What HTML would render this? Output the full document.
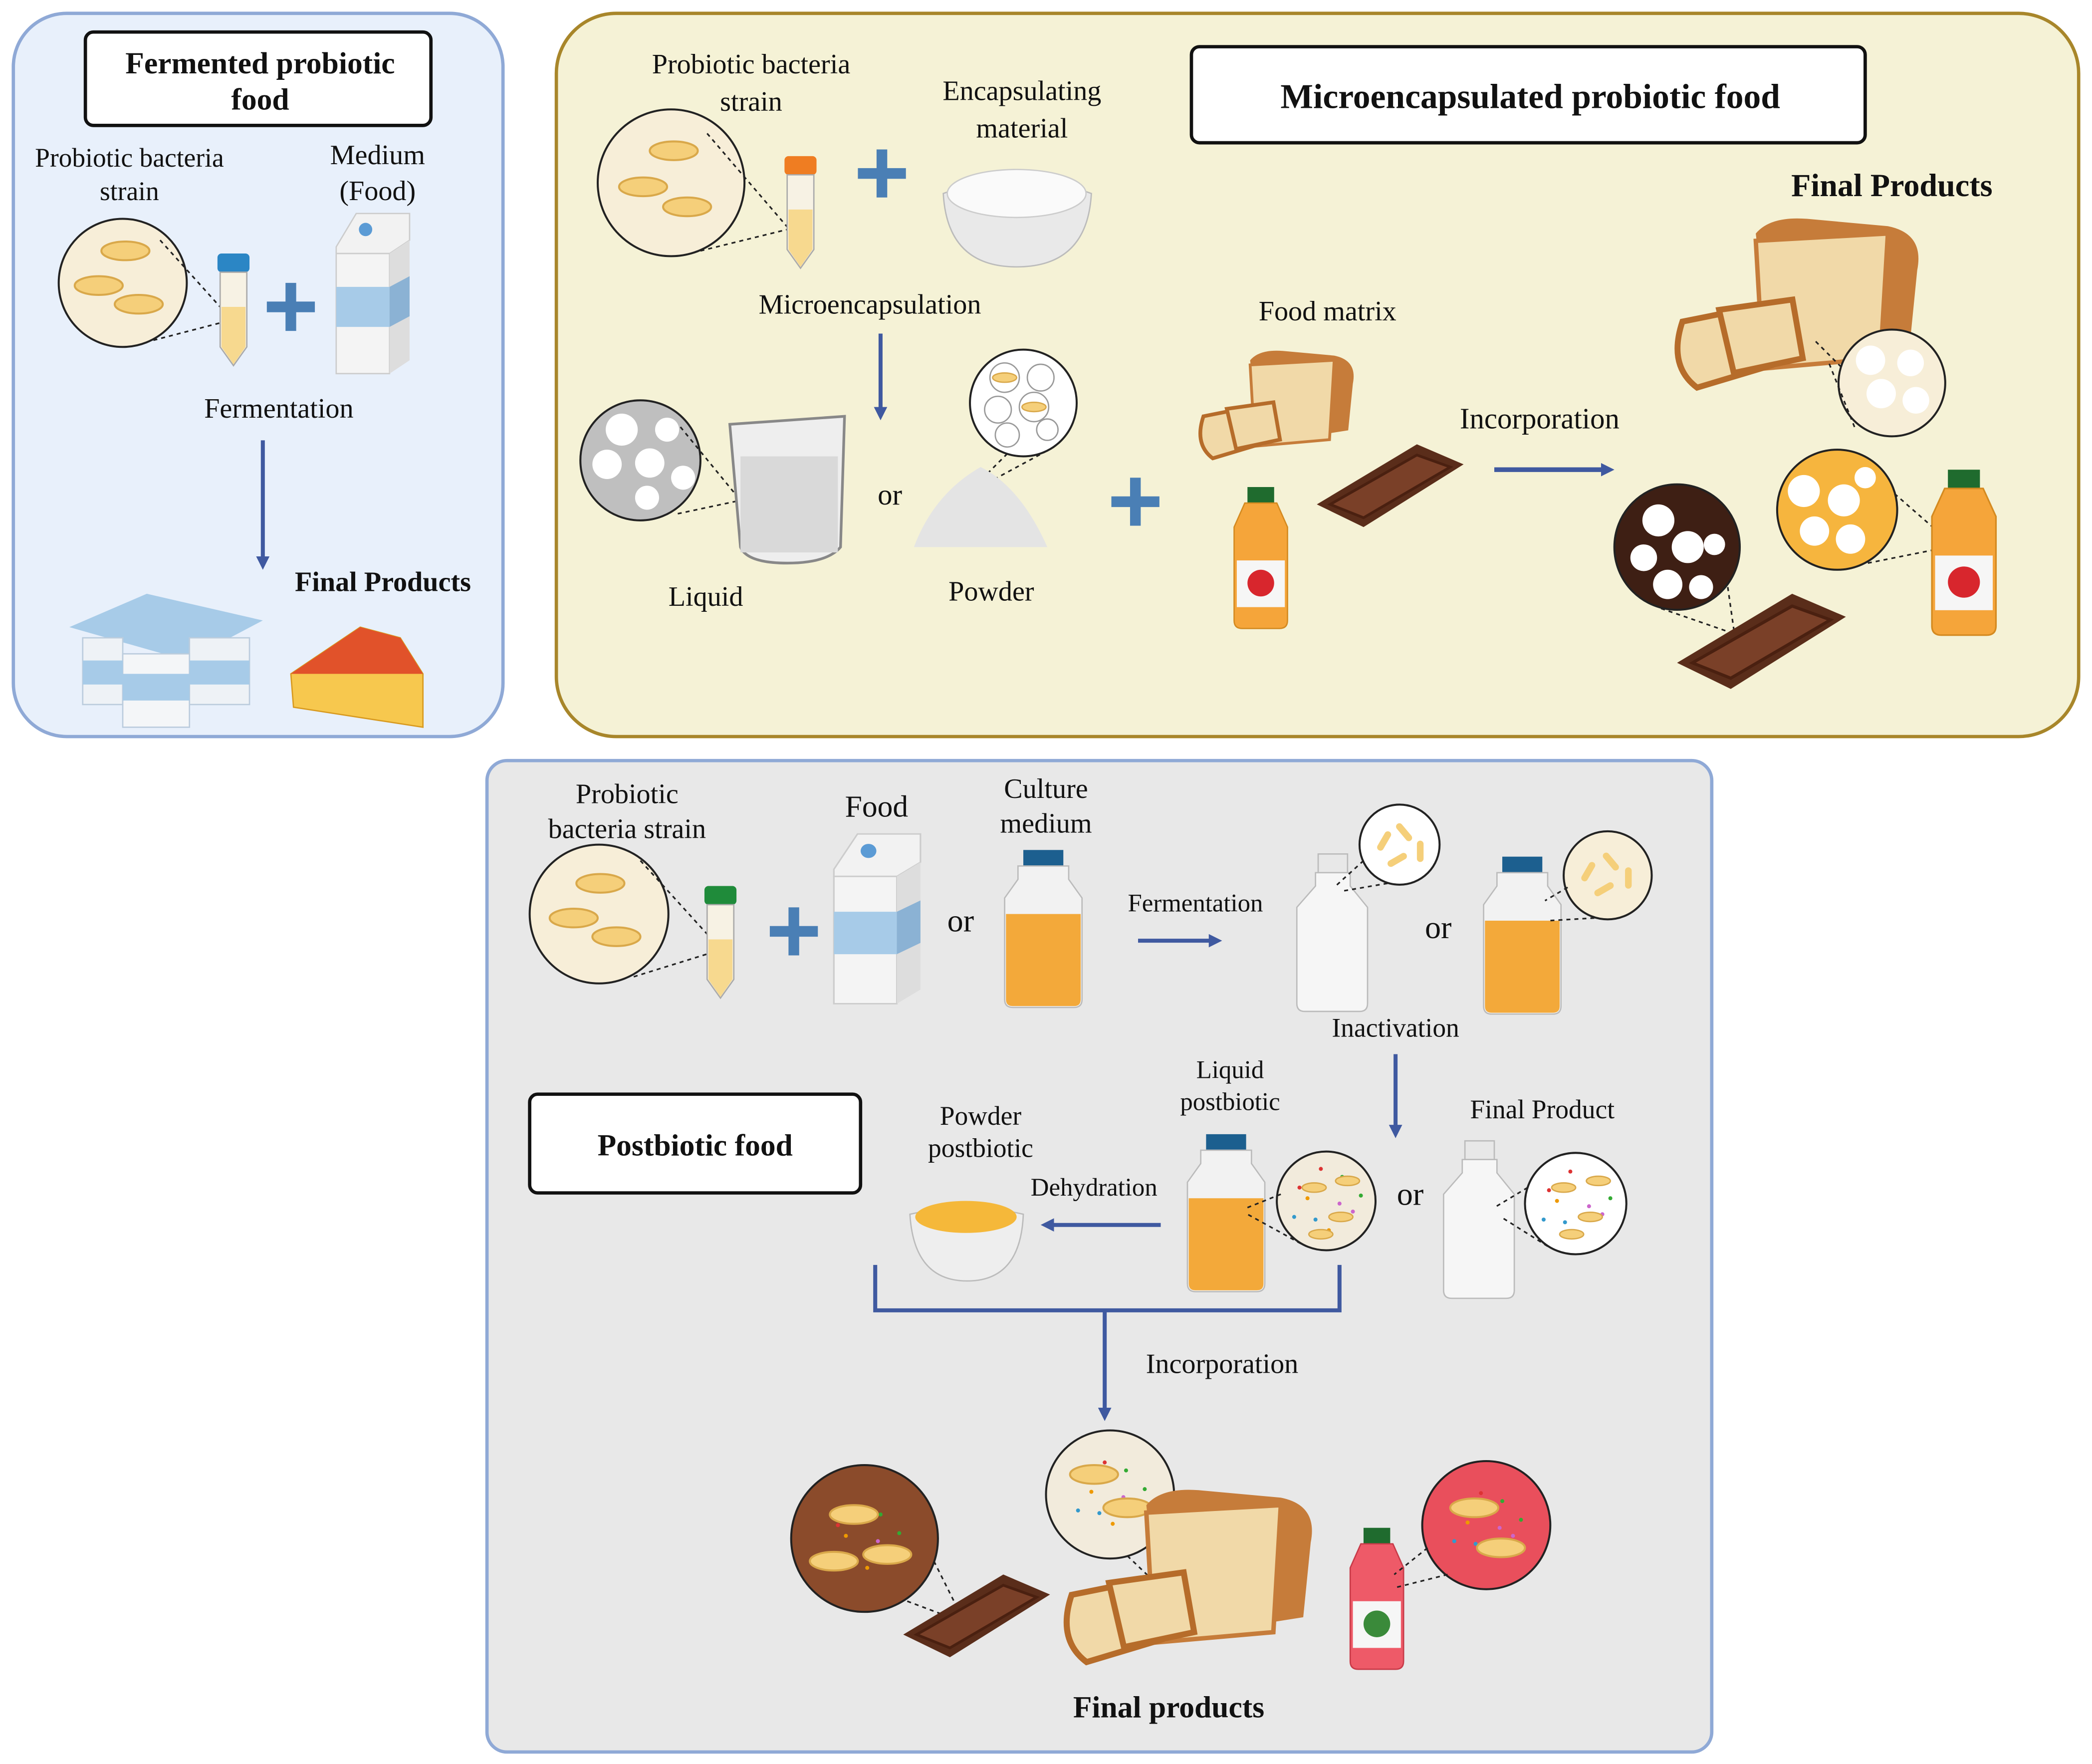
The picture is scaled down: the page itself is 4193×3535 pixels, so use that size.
<!DOCTYPE html>
<html><head><meta charset="utf-8">
<style>
html,body{margin:0;padding:0;background:#fff;}
svg{display:block;}
text{font-family:"Liberation Serif",serif;fill:#111;}
.b{font-weight:bold;}
.d{stroke:#222;stroke-dasharray:3,3;stroke-width:1.2;}
</style></head>
<body>
<svg width="4193" height="3535" viewBox="0 0 1568 1322" preserveAspectRatio="none" xmlns="http://www.w3.org/2000/svg">
<defs>
<marker id="ah" markerWidth="10" markerHeight="10" refX="5" refY="5" orient="auto" markerUnits="userSpaceOnUse" viewBox="0 0 10 10">
<path d="M0,0 L10,5 L0,10 z" fill="#3f59a0"/></marker>
<g id="plus"><rect x="-18" y="-4" width="36" height="8" fill="#4a7fb5"/><rect x="-4" y="-18" width="8" height="36" fill="#4a7fb5"/></g>
<g id="bact"><ellipse cx="0" cy="0" rx="18" ry="7" fill="#f5cf7a" stroke="#d9a84a" stroke-width="1.5"/></g>
<g id="sb"><ellipse cx="0" cy="0" rx="9" ry="3.5" fill="#f5cf7a" stroke="#d9a84a" stroke-width="1"/></g>
<g id="dots"><circle cx="-20" cy="-10" r="1.5" fill="#d33"/><circle cx="-8" cy="14" r="1.5" fill="#39c"/><circle cx="12" cy="-18" r="1.5" fill="#3a3"/><circle cx="20" cy="8" r="1.5" fill="#c6c"/><circle cx="2" cy="22" r="1.5" fill="#e90"/><circle cx="-24" cy="12" r="1.5" fill="#39c"/><circle cx="-4" cy="-24" r="1.5" fill="#d33"/><circle cx="26" cy="-4" r="1.5" fill="#3a3"/><circle cx="10" cy="2" r="1.5" fill="#c6c"/><circle cx="-14" cy="-2" r="1.5" fill="#e90"/></g>
<g id="carton"><path d="M0,25 L15,0 L55,0 L55,20 L40,30 L0,30 z" fill="#f2f2f2" stroke="#ccc"/><rect x="0" y="30" width="40" height="90" fill="#f4f4f4" stroke="#ccc"/><path d="M40,30 L55,20 L55,110 L40,120 z" fill="#ddd"/><rect x="0" y="55" width="40" height="30" fill="#a7cbe8"/><path d="M40,55 L55,47 L55,77 L40,85z" fill="#8bb2d4"/><circle cx="22" cy="12" r="5" fill="#5b9bd5"/></g>
<g id="jar"><rect x="14" y="0" width="30" height="12" fill="#1c5f8f"/><path d="M10,12 L48,12 L48,22 L58,36 L58,112 Q58,118 52,118 L6,118 Q0,118 0,112 L0,36 L10,22z" fill="#f2f2f2" stroke="#bbb"/><path d="M1,48 L57,48 L57,112 Q57,117 52,117 L6,117 Q1,117 1,112z" fill="#f3a93a"/></g>
<g id="bottle"><rect x="16" y="0" width="22" height="14" fill="#e8e8e8" stroke="#bbb"/><path d="M14,14 L40,14 L40,24 L53,40 L53,112 Q53,118 47,118 L6,118 Q0,118 0,112 L0,40 L14,24z" fill="#f6f6f6" stroke="#bbb"/></g>
<g id="tube"><rect x="0" y="0" width="24" height="14" rx="3"/><path d="M2,14 L22,14 L22,70 L12,84 L2,70z" fill="#f7f2e4" stroke="#aaa"/><path d="M3,40 L21,40 L21,70 L12,83 L3,70z" fill="#f7d98f"/></g>
<g id="bread"><path d="M60,0 Q70,-12 95,-10 L150,-5 Q175,0 170,25 L165,75 L70,90 Z" fill="#c67c3a"/><path d="M60,5 L150,0 L145,85 L65,92 Z" fill="#f1d9a8" stroke="#c67c3a" stroke-width="3"/><path d="M10,60 L60,50 L70,90 L20,105 Q0,90 10,60z" fill="#f1d9a8" stroke="#b66c2a" stroke-width="4"/><path d="M35,52 L85,45 L92,85 L45,95z" fill="#f1d9a8" stroke="#b66c2a" stroke-width="4"/></g>
<g id="choc"><path d="M0,45 L75,0 L110,15 L35,62z" fill="#5a2d1a"/><path d="M10,45 L75,8 L100,17 L35,55z" fill="#7a4028" stroke="#4a2010" stroke-width="2"/></g>
<g id="juice"><rect x="10" y="0" width="20" height="12" fill="#1f6b2e"/><path d="M8,12 L32,12 L40,30 L40,100 Q40,106 34,106 L6,106 Q0,106 0,100 L0,30z" fill="#f5a53a" stroke="#d48a20"/><rect x="2" y="55" width="36" height="35" fill="#f6f6f6"/><circle cx="20" cy="72" r="10" fill="#d8262d"/></g>
</defs>

<!-- Panel 1 -->
<rect x="10" y="10" width="367" height="542" rx="40" fill="#e8f0fb" stroke="#8fa9d6" stroke-width="2.5"/>
<rect x="64" y="24" width="259" height="70" rx="6" fill="#fff" stroke="#111" stroke-width="2.5"/>
<text x="195" y="55" font-size="23" text-anchor="middle" class="b">Fermented probiotic</text>
<text x="195" y="82" font-size="23" text-anchor="middle" class="b">food</text>
<text x="97" y="125" font-size="20" text-anchor="middle">Probiotic bacteria</text>
<text x="97" y="150" font-size="20" text-anchor="middle">strain</text>
<text x="283" y="123" font-size="21" text-anchor="middle">Medium</text>
<text x="283" y="150" font-size="21" text-anchor="middle">(Food)</text>
<circle cx="92" cy="212" r="48" fill="#f7eed8" stroke="#222" stroke-width="1.5"/>
<use href="#bact" x="94" y="188"/><use href="#bact" x="74" y="214"/><use href="#bact" x="104" y="228"/>
<line x1="120" y1="180" x2="165" y2="230" class="d"/><line x1="115" y1="255" x2="165" y2="242" class="d"/>
<use href="#tube" x="163" y="190" fill="#2b86c5"/>
<use href="#plus" x="218" y="230"/>
<use href="#carton" x="252" y="160"/>
<text x="209" y="313" font-size="21" text-anchor="middle">Fermentation</text>
<line x1="197" y1="330" x2="197" y2="422" stroke="#3f59a0" stroke-width="3" marker-end="url(#ah)"/>
<text x="287" y="443" font-size="21" text-anchor="middle" class="b">Final Products</text>
<g>
<path d="M52,470 L110,445 L197,465 L140,495z" fill="#a7cbe8"/>
<rect x="62" y="478" width="30" height="50" fill="#eef2f6" stroke="#bcd"/><rect x="142" y="478" width="45" height="50" fill="#eef2f6" stroke="#bcd"/>
<rect x="92" y="490" width="50" height="55" fill="#f4f6f8" stroke="#bcd"/>
<rect x="92" y="505" width="50" height="20" fill="#a7cbe8"/><rect x="142" y="495" width="45" height="18" fill="#a7cbe8"/><rect x="62" y="495" width="30" height="18" fill="#a7cbe8"/>
</g>
<path d="M218,505 L270,470 L300,478 L317,505 L317,545 L220,530 Z" fill="#f7c84e" stroke="#d89a20"/>
<path d="M218,505 L270,470 L300,478 L317,505z" fill="#e1522a"/>

<!-- Panel 2 -->
<rect x="417" y="10" width="1141" height="542" rx="45" fill="#f5f2d6" stroke="#a8862a" stroke-width="2.5"/>
<text x="563" y="55" font-size="21" text-anchor="middle">Probiotic bacteria</text>
<text x="563" y="83" font-size="21" text-anchor="middle">strain</text>
<text x="766" y="75" font-size="21" text-anchor="middle">Encapsulating</text>
<text x="766" y="103" font-size="21" text-anchor="middle">material</text>
<rect x="893" y="35" width="505" height="72" rx="6" fill="#fff" stroke="#111" stroke-width="2.5"/>
<text x="1147" y="81" font-size="26" text-anchor="middle" class="b">Microencapsulated probiotic food</text>
<circle cx="503" cy="137" r="55" fill="#f7eed8" stroke="#222" stroke-width="1.5"/>
<use href="#bact" x="505" y="113"/><use href="#bact" x="482" y="140"/><use href="#bact" x="515" y="155"/>
<line x1="530" y1="100" x2="590" y2="170" class="d"/><line x1="525" y1="188" x2="590" y2="172" class="d"/>
<use href="#tube" x="588" y="117" fill="#ef7d22"/>
<use href="#plus" x="661" y="130"/>
<path d="M707,145 Q762,125 818,145 Q815,200 762,200 Q710,200 707,145z" fill="#e9e9e9" stroke="#bbb"/>
<ellipse cx="762" cy="145" rx="52" ry="18" fill="#fafafa" stroke="#ccc"/>
<text x="652" y="235" font-size="21" text-anchor="middle">Microencapsulation</text>
<line x1="660" y1="250" x2="660" y2="310" stroke="#3f59a0" stroke-width="3" marker-end="url(#ah)"/>
<circle cx="480" cy="345" r="45" fill="#bfbfbf" stroke="#222" stroke-width="1.5"/>
<circle cx="466" cy="322" r="12" fill="#fff"/><circle cx="500" cy="322" r="9" fill="#fff"/><circle cx="455" cy="348" r="11" fill="#fff"/><circle cx="487" cy="347" r="11" fill="#fff"/><circle cx="512" cy="358" r="9" fill="#fff"/><circle cx="485" cy="373" r="9" fill="#fff"/>
<line x1="510" y1="320" x2="555" y2="375" class="d"/><line x1="508" y1="385" x2="555" y2="375" class="d"/>
<path d="M547,318 L633,312 L630,410 Q620,422 590,422 Q560,422 555,410 Z" fill="#eeeeee" stroke="#888" stroke-width="2"/>
<rect x="555" y="342" width="73" height="72" fill="#d9d9d9"/>
<text x="667" y="378" font-size="22" text-anchor="middle">or</text>
<circle cx="767" cy="302" r="40" fill="#fff" stroke="#222" stroke-width="1.5"/>
<circle cx="753" cy="283" r="11" fill="#fff" stroke="#999"/><circle cx="780" cy="283" r="10" fill="#fff" stroke="#999"/><circle cx="748" cy="307" r="10" fill="#fff" stroke="#999"/><circle cx="775" cy="305" r="11" fill="#fff" stroke="#999"/><circle cx="755" cy="326" r="9" fill="#fff" stroke="#999"/><circle cx="785" cy="322" r="8" fill="#fff" stroke="#999"/>
<use href="#sb" x="753" y="283" transform="translate(0 0)"/><use href="#sb" x="775" y="305"/>
<line x1="755" y1="340" x2="735" y2="360" class="d"/><line x1="790" y1="335" x2="740" y2="362" class="d"/>
<path d="M685,410 Q700,370 735,350 Q765,365 785,410 z" fill="#e4e4e4"/>
<text x="529" y="454" font-size="21" text-anchor="middle">Liquid</text>
<text x="743" y="450" font-size="21" text-anchor="middle">Powder</text>
<use href="#plus" x="851" y="376"/>
<text x="995" y="240" font-size="21" text-anchor="middle">Food matrix</text>
<g transform="translate(895,270) scale(0.7)"><use href="#bread"/></g>
<use href="#juice" x="925" y="365"/>
<use href="#choc" x="987" y="333"/>
<text x="1154" y="321" font-size="22" text-anchor="middle">Incorporation</text>
<line x1="1120" y1="352" x2="1205" y2="352" stroke="#3f59a0" stroke-width="3.5" marker-end="url(#ah)"/>
<text x="1418" y="147" font-size="24" text-anchor="middle" class="b">Final Products</text>
<g transform="translate(1250,175) scale(1.1)"><use href="#bread"/></g>
<circle cx="1418" cy="287" r="40" fill="#f7eed8" stroke="#222" stroke-width="1.5"/>
<circle cx="1402" cy="270" r="11" fill="#fff"/><circle cx="1432" cy="272" r="10" fill="#fff"/><circle cx="1410" cy="295" r="11" fill="#fff"/><circle cx="1436" cy="300" r="10" fill="#fff"/>
<line x1="1380" y1="275" x2="1360" y2="255" class="d"/><line x1="1390" y1="320" x2="1370" y2="270" class="d"/>
<circle cx="1257" cy="410" r="47" fill="#3e1f14" stroke="#222" stroke-width="1.5"/>
<circle cx="1243" cy="390" r="12" fill="#fff"/><circle cx="1265" cy="410" r="12" fill="#fff"/><circle cx="1232" cy="418" r="10" fill="#fff"/><circle cx="1250" cy="438" r="11" fill="#fff"/><circle cx="1275" cy="440" r="9" fill="#fff"/><circle cx="1285" cy="408" r="8" fill="#fff"/>
<line x1="1245" y1="456" x2="1300" y2="475" class="d"/><line x1="1295" y1="440" x2="1300" y2="475" class="d"/>
<g transform="translate(1257,445) scale(1.15)"><use href="#choc"/></g>
<circle cx="1377" cy="382" r="45" fill="#f6b53e" stroke="#222" stroke-width="1.5"/>
<circle cx="1352" cy="368" r="12" fill="#fff"/><circle cx="1382" cy="375" r="12" fill="#fff"/><circle cx="1360" cy="398" r="11" fill="#fff"/><circle cx="1387" cy="404" r="11" fill="#fff"/><circle cx="1398" cy="358" r="8" fill="#fff"/>
<line x1="1420" y1="370" x2="1460" y2="405" class="d"/><line x1="1400" y1="422" x2="1460" y2="410" class="d"/>
<g transform="translate(1448,352) scale(1.2,1.17)"><use href="#juice"/></g>

<!-- Panel 3 -->
<rect x="365" y="570" width="918" height="743" rx="15" fill="#e8e8e8" stroke="#8fa9d6" stroke-width="2.5"/>
<text x="470" y="602" font-size="21" text-anchor="middle">Probiotic</text>
<text x="470" y="628" font-size="21" text-anchor="middle">bacteria strain</text>
<text x="657" y="612" font-size="23" text-anchor="middle">Food</text>
<text x="784" y="598" font-size="21" text-anchor="middle">Culture</text>
<text x="784" y="624" font-size="21" text-anchor="middle">medium</text>
<circle cx="449" cy="685" r="52" fill="#f7eed8" stroke="#222" stroke-width="1.5"/>
<use href="#bact" x="450" y="662"/><use href="#bact" x="430" y="688"/><use href="#bact" x="462" y="702"/>
<line x1="480" y1="645" x2="530" y2="700" class="d"/><line x1="475" y1="732" x2="530" y2="715" class="d"/>
<use href="#tube" x="528" y="664" fill="#1f8b3a"/>
<use href="#plus" x="595" y="698"/>
<g transform="translate(625,625) scale(1.18,1.06)"><use href="#carton"/></g>
<text x="720" y="698" font-size="24" text-anchor="middle">or</text>
<use href="#jar" x="753" y="637"/>
<text x="896" y="683" font-size="19" text-anchor="middle">Fermentation</text>
<line x1="853" y1="705" x2="911" y2="705" stroke="#3f59a0" stroke-width="3" marker-end="url(#ah)"/>
<use href="#bottle" x="972" y="640"/>
<circle cx="1049" cy="633" r="30" fill="#fff" stroke="#222" stroke-width="1.5"/>
<g fill="#f5cf7a"><rect x="1035" y="622" width="5" height="16" rx="2.5" transform="rotate(30 1037 630)"/><rect x="1050" y="616" width="5" height="16" rx="2.5" transform="rotate(-40 1052 624)"/><rect x="1045" y="636" width="5" height="16" rx="2.5" transform="rotate(60 1047 644)"/><rect x="1062" y="630" width="5" height="16" rx="2.5"/></g>
<line x1="1022" y1="645" x2="1000" y2="665" class="d"/><line x1="1040" y1="662" x2="1005" y2="668" class="d"/>
<text x="1078" y="703" font-size="24" text-anchor="middle">or</text>
<use href="#jar" x="1112" y="642"/>
<circle cx="1205" cy="656" r="33" fill="#f7eed8" stroke="#222" stroke-width="1.5"/>
<g fill="#f5cf7a"><rect x="1188" y="645" width="5" height="16" rx="2.5" transform="rotate(30 1190 653)"/><rect x="1205" y="638" width="5" height="16" rx="2.5" transform="rotate(-40 1207 646)"/><rect x="1200" y="658" width="5" height="16" rx="2.5" transform="rotate(60 1202 666)"/><rect x="1218" y="650" width="5" height="16" rx="2.5"/></g>
<line x1="1175" y1="665" x2="1158" y2="675" class="d"/><line x1="1195" y1="688" x2="1160" y2="690" class="d"/>
<text x="1046" y="777" font-size="20" text-anchor="middle">Inactivation</text>
<line x1="1046" y1="790" x2="1046" y2="848" stroke="#3f59a0" stroke-width="3" marker-end="url(#ah)"/>
<text x="922" y="808" font-size="19" text-anchor="middle">Liquid</text>
<text x="922" y="832" font-size="19" text-anchor="middle">postbiotic</text>
<text x="1156" y="838" font-size="20" text-anchor="middle">Final Product</text>
<rect x="397" y="820" width="248" height="74" rx="6" fill="#fff" stroke="#111" stroke-width="2.5"/>
<text x="521" y="866" font-size="23" text-anchor="middle" class="b">Postbiotic food</text>
<text x="735" y="843" font-size="20" text-anchor="middle">Powder</text>
<text x="735" y="867" font-size="20" text-anchor="middle">postbiotic</text>
<text x="820" y="896" font-size="19" text-anchor="middle">Dehydration</text>
<line x1="870" y1="918" x2="785" y2="918" stroke="#3f59a0" stroke-width="3" marker-end="url(#ah)"/>
<path d="M682,910 Q725,900 767,910 Q765,960 725,960 Q685,960 682,910z" fill="#eeeeee" stroke="#bbb"/>
<ellipse cx="724" cy="912" rx="38" ry="12" fill="#f5b83a"/>
<use href="#jar" x="890" y="850"/>
<circle cx="994" cy="900" r="37" fill="#f2ebdc" stroke="#222" stroke-width="1.5"/>
<use href="#dots" x="994" y="900"/><use href="#sb" x="985" y="890"/><use href="#sb" x="1005" y="912"/><use href="#sb" x="990" y="925"/><use href="#sb" x="1010" y="885"/>
<line x1="960" y1="895" x2="935" y2="905" class="d"/><line x1="975" y1="932" x2="935" y2="910" class="d"/>
<text x="1057" y="903" font-size="24" text-anchor="middle">or</text>
<use href="#bottle" x="1082" y="855"/>
<circle cx="1181" cy="902" r="38" fill="#fff" stroke="#222" stroke-width="1.5"/>
<use href="#dots" x="1181" y="902"/><use href="#sb" x="1172" y="890"/><use href="#sb" x="1192" y="912"/><use href="#sb" x="1178" y="925"/><use href="#sb" x="1198" y="885"/>
<line x1="1145" y1="890" x2="1120" y2="905" class="d"/><line x1="1160" y1="934" x2="1125" y2="912" class="d"/>
<path d="M656,948 L656,982 L1004,982 L1004,948" fill="none" stroke="#3f59a0" stroke-width="3"/>
<line x1="828" y1="982" x2="828" y2="1060" stroke="#3f59a0" stroke-width="3" marker-end="url(#ah)"/>
<text x="916" y="1029" font-size="21" text-anchor="middle">Incorporation</text>
<circle cx="648" cy="1153" r="55" fill="#8b4b2b" stroke="#222" stroke-width="1.5"/>
<use href="#dots" x="648" y="1153"/>
<use href="#bact" x="640" y="1135"/><use href="#bact" x="665" y="1165"/><use href="#bact" x="625" y="1170"/>
<line x1="700" y1="1170" x2="720" y2="1210" class="d"/><line x1="680" y1="1200" x2="720" y2="1215" class="d"/>
<use href="#choc" x="677" y="1180"/>
<circle cx="832" cy="1120" r="48" fill="#f2ebdc" stroke="#222" stroke-width="1.5"/>
<use href="#dots" x="832" y="1120"/>
<use href="#bact" x="820" y="1105"/><use href="#bact" x="845" y="1130"/>
<line x1="865" y1="1155" x2="880" y2="1185" class="d"/><line x1="845" y1="1166" x2="870" y2="1190" class="d"/>
<g transform="translate(792,1128) scale(1.12)"><use href="#bread"/></g>
<g transform="translate(1012,1145)"><rect x="10" y="0" width="20" height="12" fill="#1f6b2e"/><path d="M8,12 L32,12 L40,30 L40,100 Q40,106 34,106 L6,106 Q0,106 0,100 L0,30z" fill="#ee5a68" stroke="#c83a48"/><rect x="2" y="55" width="36" height="35" fill="#f6f6f6"/><circle cx="20" cy="72" r="10" fill="#3a8a3a"/></g>
<circle cx="1114" cy="1143" r="48" fill="#e94f5c" stroke="#222" stroke-width="1.5"/>
<use href="#dots" x="1114" y="1143"/>
<use href="#bact" x="1105" y="1130"/><use href="#bact" x="1125" y="1160"/>
<line x1="1085" y1="1180" x2="1045" y2="1190" class="d"/><line x1="1070" y1="1160" x2="1045" y2="1180" class="d"/>
<text x="876" y="1287" font-size="23" text-anchor="middle" class="b">Final products</text>
</svg>
</body></html>
